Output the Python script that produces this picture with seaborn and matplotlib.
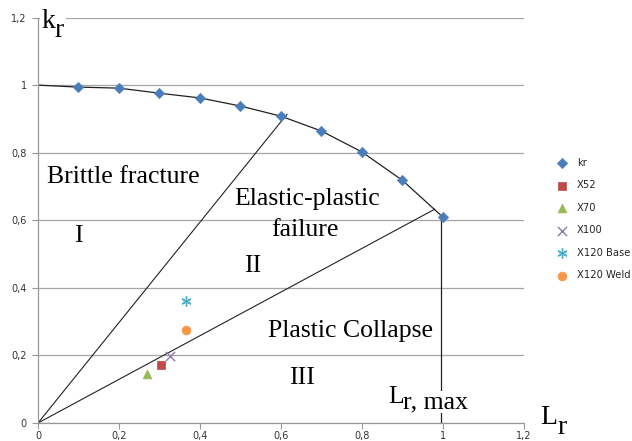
import seaborn as sns
import matplotlib.pyplot as plt
import pandas as pd

# failure assessment curve
lr_curve = [0.0, 0.1, 0.2, 0.3, 0.4, 0.5, 0.6, 0.7, 0.8, 0.9, 1.0]
kr_curve = [1.0, 0.994, 0.991, 0.976, 0.962, 0.938, 0.908, 0.864, 0.802, 0.718, 0.609]

# assessment points
steels = ['X52', 'X70', 'X100', 'X120 Base', 'X120 Weld']
steel_lr = [0.304, 0.269, 0.326, 0.365, 0.365]
steel_kr = [0.172, 0.145, 0.198, 0.361, 0.275]

# region boundary lines (from origin to curve)
ray1 = (0.615, 0.914)
ray2 = (0.980, 0.633)
lr_max = 0.995

sns.set_style('white')
plt.rcParams['font.family'] = ['DejaVu Sans']

fig = plt.figure(figsize=(6.32, 4.41), dpi=100)
ax = fig.add_axes([0.0601, 0.0408, 0.769, 0.9195])

curve = pd.DataFrame({'Lr': lr_curve, 'kr': kr_curve})
sns.lineplot(data=curve, x='Lr', y='kr', color='#222222', lw=0.9, ax=ax, zorder=2)
sns.scatterplot(data=curve.iloc[1:], x='Lr', y='kr', marker='D', color='#4A7EBB',
                s=28, edgecolor='#4A7EBB', ax=ax, zorder=3, label='kr')

colors = ['#BE4B48', '#98B954', '#8E7AB0', '#4BACC6', '#F79646']
markers = ['s', '^', 'x', (6, 2, 0), 'o']
for name, x, y, c, m in zip(steels, steel_lr, steel_kr, colors, markers):
    if m in ('x', (6, 2, 0)):
        sns.scatterplot(x=[x], y=[y], marker=m, color=c, s=45, linewidth=1.0, ax=ax,
                        zorder=3, label=name)
    else:
        sns.scatterplot(x=[x], y=[y], marker=m, color=c, s=40, edgecolor=c, ax=ax,
                        zorder=3, label=name)

# region boundaries
ax.plot([0, ray1[0]], [0, ray1[1]], color='#222222', lw=0.8)
ax.plot([0, ray2[0]], [0, ray2[1]], color='#222222', lw=0.8)
ax.plot([lr_max, lr_max], [0, kr_curve[-1]], color='#222222', lw=0.9)

ax.set_xlim(0, 1.2)
ax.set_ylim(0, 1.2)
ticks = [0, 0.2, 0.4, 0.6, 0.8, 1.0, 1.2]
labels = ['0', '0,2', '0,4', '0,6', '0,8', '1', '1,2']
ax.set_xticks(ticks)
ax.set_xticklabels(labels)
ax.set_yticks(ticks)
ax.set_yticklabels(labels)
ax.tick_params(labelsize=7, colors='#999999', length=4, width=0.8, direction='out',
               bottom=True, left=True, pad=4, labelcolor='#333333')
ax.tick_params(axis='x', pad=2)
ax.yaxis.grid(True, color='#a6a6a6', lw=0.9)
ax.xaxis.grid(False)
for side in ['top', 'right']:
    ax.spines[side].set_visible(False)
for side in ['left', 'bottom']:
    ax.spines[side].set_color('#999999')
    ax.spines[side].set_linewidth(0.9)
ax.set_xlabel('')
ax.set_ylabel('')

serif = dict(family='Liberation Serif', color='black')
fs = 18.5
# axis titles
ax.text(0.040, 1.142, 'r', fontsize=20, ha='left', va='baseline', zorder=4,
        bbox=dict(fc='white', ec='none', pad=2), **serif)
ax.text(0.009, 1.169, 'k', fontsize=20, ha='left', va='baseline', zorder=6,
        bbox=dict(fc='white', ec='none', pad=1), **serif)
fig.text(540 / 632, 1 - 424 / 441, 'L', fontsize=20, ha='left', va='baseline', **serif)
fig.text(557 / 632, 1 - 434 / 441, 'r', fontsize=20, ha='left', va='baseline', **serif)

# region labels
ax.text(0.022, 0.710, 'Brittle fracture', fontsize=fs, ha='left', va='baseline', **serif)
ax.text(0.099, 0.553, 'I', fontsize=fs, ha='center', va='center', **serif)
ax.text(0.664, 0.645, 'Elastic-plastic', fontsize=fs, ha='center', va='baseline', **serif)
ax.text(0.659, 0.553, 'failure', fontsize=fs, ha='center', va='baseline', **serif)
ax.text(0.531, 0.464, 'II', fontsize=fs, ha='center', va='center', **serif)
ax.text(0.568, 0.254, 'Plastic Collapse', fontsize=fs, ha='left', va='baseline', **serif)
ax.text(0.652, 0.133, 'III', fontsize=fs, ha='center', va='center', **serif)
ax.text(0.864, 0.059, 'L', fontsize=fs, ha='left', va='baseline', zorder=5, **serif)
ax.text(0.901, 0.044, 'r, max', fontsize=fs, ha='left', va='baseline', zorder=5,
        bbox=dict(fc='white', ec='none', pad=0), **serif)

ax.legend(loc='upper left', bbox_to_anchor=(0.880, 0.642), bbox_transform=fig.transFigure,
          frameon=False, fontsize=7.2, handletextpad=0.9, labelspacing=1.25,
          borderaxespad=0, borderpad=0, handlelength=1.2)

fig.savefig('out.png', dpi=100)
